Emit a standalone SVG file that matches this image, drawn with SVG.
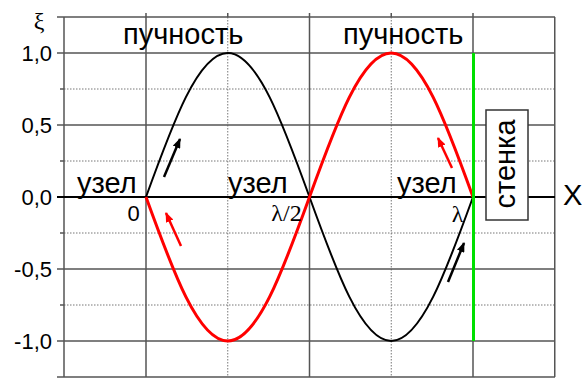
<svg xmlns="http://www.w3.org/2000/svg" width="582" height="378" viewBox="0 0 582 378">
<style>
.maj{stroke:#555;stroke-width:1.5;fill:none}
.min{stroke:#777;stroke-width:1;stroke-dasharray:1.5 1.5;fill:none}
.tick{stroke:#555;stroke-width:1.5}
.num{font-family:"Liberation Sans",Arial,sans-serif;font-size:22px;fill:#000}
.lbl{font-family:"Liberation Sans",Arial,sans-serif;font-size:29px;fill:#000}
.ser{font-family:"Liberation Serif","Times New Roman",serif;font-size:24px;fill:#000}
</style>
<defs>
<marker id="ahK" markerUnits="userSpaceOnUse" markerWidth="10" markerHeight="8" refX="9" refY="4" orient="auto"><path d="M0,0 L10,4 L0,8 z" fill="#000"/></marker>
<marker id="ahR" markerUnits="userSpaceOnUse" markerWidth="10" markerHeight="8" refX="9" refY="4" orient="auto"><path d="M0,0 L10,4 L0,8 z" fill="#f00"/></marker>
</defs>
<rect width="582" height="378" fill="#fff"/>
<g id="grid">
<path class="min" d="M64,89H555M64,161H555M64,233H555M64,305H555M227.75,17V377M391.25,17V377"/>
<path class="maj" d="M64,17H555M64,53H555M64,125H555M64,269H555M64,341H555M64,377H555"/>
<path class="maj" d="M64,17V377M146,17V377M309.5,17V377M473,17V377M554.75,17V377"/>
<path class="tick" d="M57,17H64M57,53H64M57,125H64M57,197H64M57,269H64M57,341H64M57,377H64M60,89H64M60,161H64M60,233H64M60,305H64M146,13V17M227.75,13V17M309.5,13V17M391.25,13V17M473,13V17"/>
<path d="M57,197H555" stroke="#000" stroke-width="2"/>
</g>
<g id="axis-labels">
<text class="num" x="52" y="60.5" text-anchor="end">1,0</text>
<text class="num" x="52" y="132.5" text-anchor="end">0,5</text>
<text class="num" x="52" y="204.5" text-anchor="end">0,0</text>
<text class="num" x="52" y="276.5" text-anchor="end">-0,5</text>
<text class="num" x="52" y="348.5" text-anchor="end">-1,0</text>
<text class="ser" x="39" y="29" text-anchor="middle" font-size="23">ξ</text>
<text class="lbl" x="563" y="205" font-size="30">X</text>
</g>
<g id="connectors">
<path d="M146,197 C172.66,123.23 198.16,53 227.75,53 C257.34,53 282.84,123.23 309.5,197 C336.16,270.77 361.66,341 391.25,341 C420.84,341 446.34,270.77 473,197" fill="none" stroke="#000" stroke-width="2"/>
<path d="M146,197 C172.66,270.77 198.16,341 227.75,341 C257.34,341 282.84,270.77 309.5,197 C336.16,123.23 361.66,53 391.25,53 C420.84,53 446.34,123.23 473,197" fill="none" stroke="#f00" stroke-width="3"/>
<line x1="164" y1="177" x2="180" y2="139" stroke="#000" stroke-width="2.5" marker-end="url(#ahK)"/>
<line x1="181" y1="246" x2="166" y2="213" stroke="#f00" stroke-width="2.5" marker-end="url(#ahR)"/>
<line x1="452" y1="168" x2="438" y2="138" stroke="#f00" stroke-width="2.5" marker-end="url(#ahR)"/>
<line x1="448" y1="282" x2="464" y2="243" stroke="#000" stroke-width="2.5" marker-end="url(#ahK)"/>
</g>
<g id="wall">
<line x1="473.5" y1="53" x2="473.5" y2="341" stroke="#00e000" stroke-width="3"/>
</g>
<g id="antinode1"><text class="lbl" x="123" y="43.5">пучность</text></g>
<g id="antinode2"><text class="lbl" x="343" y="43.5">пучность</text></g>
<g id="node1"><text class="lbl" x="77" y="193">узел</text><text class="num" x="133.5" y="221" text-anchor="middle">0</text></g>
<g id="node2"><text class="lbl" x="228" y="193">узел</text><text class="ser" x="286.5" y="221" text-anchor="middle">λ/2</text></g>
<g id="node3"><text class="lbl" x="397" y="193">узел</text><text class="ser" x="457.5" y="222" text-anchor="middle">λ</text></g>
<g id="wall-label">
<rect x="486" y="110" width="42" height="110" fill="#fff" stroke="#333" stroke-width="1.5"/>
<text class="lbl" transform="translate(515,164) rotate(-90)" text-anchor="middle">стенка</text>
</g>
</svg>
